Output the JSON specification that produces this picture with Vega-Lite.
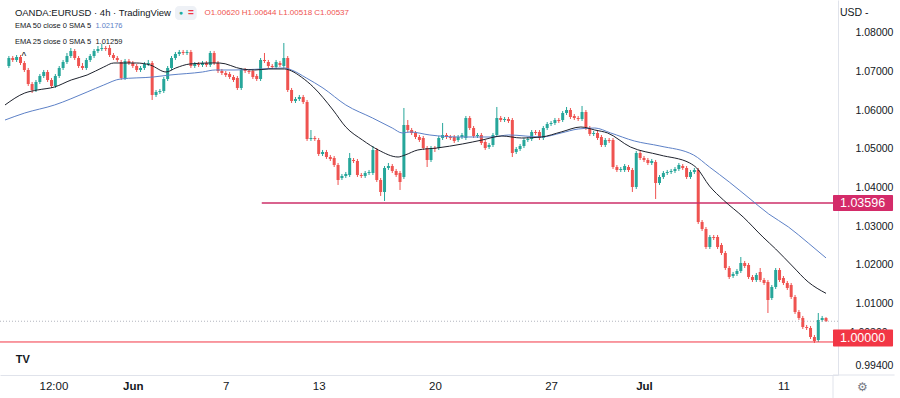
{
"$schema": "https://vega.github.io/schema/vega-lite/v6.json",
"width": 838,
"height": 375,
"autosize": {"type": "none"},
"padding": {"left": 0, "top": 0, "right": 62, "bottom": 23},
"background": "#ffffff",
"config": {"view": {"stroke": null}, "font": "Liberation Sans",
 "axis": {"grid": false, "ticks": false, "domain": true, "domainColor": "#e0e3eb", "labelColor": "#131722", "labelFlush": false, "labelOverlap": false},
 "axisX": {"labelFontSize": 11.5, "labelPadding": 5},
 "axisY": {"labelFontSize": 10.5, "labelPadding": 17}},
"data": {"values": [{}]},
"datasets": {
"candles": [
{"i":1,"o":1.07145,"h":1.07404,"l":1.07094,"c":1.07352},
{"i":2,"o":1.07352,"h":1.07404,"l":1.07249,"c":1.07301},
{"i":3,"o":1.07301,"h":1.0743,"l":1.07249,"c":1.07378},
{"i":4,"o":1.07378,"h":1.0743,"l":1.07171,"c":1.07223},
{"i":5,"o":1.07223,"h":1.07275,"l":1.0699,"c":1.07042},
{"i":6,"o":1.07042,"h":1.07094,"l":1.06628,"c":1.06679},
{"i":7,"o":1.06679,"h":1.06731,"l":1.06446,"c":1.06524},
{"i":8,"o":1.06524,"h":1.06783,"l":1.06472,"c":1.06731},
{"i":9,"o":1.06731,"h":1.06938,"l":1.06679,"c":1.06886},
{"i":10,"o":1.06886,"h":1.07042,"l":1.06835,"c":1.0699},
{"i":11,"o":1.0699,"h":1.07042,"l":1.06731,"c":1.06783},
{"i":12,"o":1.06783,"h":1.06835,"l":1.06576,"c":1.06628},
{"i":13,"o":1.06628,"h":1.06938,"l":1.06576,"c":1.06886},
{"i":14,"o":1.06886,"h":1.07145,"l":1.06835,"c":1.07094},
{"i":15,"o":1.07094,"h":1.07301,"l":1.07042,"c":1.07249},
{"i":16,"o":1.07249,"h":1.07482,"l":1.07197,"c":1.07404},
{"i":17,"o":1.07404,"h":1.07611,"l":1.07352,"c":1.07534},
{"i":18,"o":1.07534,"h":1.07585,"l":1.07301,"c":1.07352},
{"i":19,"o":1.07352,"h":1.07404,"l":1.07094,"c":1.07145},
{"i":20,"o":1.07145,"h":1.07223,"l":1.07042,"c":1.07094},
{"i":21,"o":1.07094,"h":1.07352,"l":1.07042,"c":1.07301},
{"i":22,"o":1.07301,"h":1.07456,"l":1.07249,"c":1.07404},
{"i":23,"o":1.07404,"h":1.07585,"l":1.07352,"c":1.07534},
{"i":24,"o":1.07534,"h":1.07663,"l":1.07482,"c":1.07585},
{"i":25,"o":1.07585,"h":1.07715,"l":1.07534,"c":1.07611},
{"i":26,"o":1.07611,"h":1.07663,"l":1.07534,"c":1.07585},
{"i":27,"o":1.07611,"h":1.07689,"l":1.07378,"c":1.0743},
{"i":28,"o":1.0743,"h":1.07482,"l":1.07301,"c":1.07352},
{"i":29,"o":1.07352,"h":1.07404,"l":1.07249,"c":1.07301},
{"i":30,"o":1.07249,"h":1.07301,"l":1.06783,"c":1.06835},
{"i":31,"o":1.06835,"h":1.07327,"l":1.06783,"c":1.07275},
{"i":32,"o":1.07275,"h":1.07327,"l":1.07171,"c":1.07223},
{"i":33,"o":1.07223,"h":1.07275,"l":1.07094,"c":1.07145},
{"i":34,"o":1.07145,"h":1.07197,"l":1.0699,"c":1.07042},
{"i":35,"o":1.07042,"h":1.07145,"l":1.0699,"c":1.07094},
{"i":36,"o":1.07094,"h":1.07249,"l":1.07042,"c":1.07197},
{"i":37,"o":1.07197,"h":1.07301,"l":1.07145,"c":1.07223},
{"i":38,"o":1.07223,"h":1.07275,"l":1.06265,"c":1.06395},
{"i":39,"o":1.06395,"h":1.06524,"l":1.06343,"c":1.06472},
{"i":40,"o":1.06472,"h":1.0655,"l":1.0642,"c":1.06498},
{"i":41,"o":1.06498,"h":1.06861,"l":1.06446,"c":1.06809},
{"i":42,"o":1.06809,"h":1.07145,"l":1.06757,"c":1.07094},
{"i":43,"o":1.07094,"h":1.07404,"l":1.07042,"c":1.07352},
{"i":44,"o":1.07352,"h":1.07508,"l":1.07301,"c":1.07456},
{"i":45,"o":1.07456,"h":1.0756,"l":1.07404,"c":1.07508},
{"i":46,"o":1.07508,"h":1.0756,"l":1.0743,"c":1.07482},
{"i":47,"o":1.07482,"h":1.0756,"l":1.0743,"c":1.07508},
{"i":48,"o":1.07508,"h":1.0756,"l":1.07094,"c":1.07145},
{"i":49,"o":1.07145,"h":1.07249,"l":1.07094,"c":1.07197},
{"i":50,"o":1.07197,"h":1.07249,"l":1.07119,"c":1.07171},
{"i":51,"o":1.07171,"h":1.07275,"l":1.07119,"c":1.07223},
{"i":52,"o":1.07223,"h":1.07275,"l":1.07119,"c":1.07171},
{"i":53,"o":1.07171,"h":1.07534,"l":1.07119,"c":1.07482},
{"i":54,"o":1.07482,"h":1.07534,"l":1.07171,"c":1.07223},
{"i":55,"o":1.07223,"h":1.07275,"l":1.06964,"c":1.07016},
{"i":56,"o":1.07016,"h":1.07068,"l":1.06912,"c":1.06964},
{"i":57,"o":1.06964,"h":1.07016,"l":1.06861,"c":1.06912},
{"i":58,"o":1.06938,"h":1.0699,"l":1.06809,"c":1.06861},
{"i":59,"o":1.06861,"h":1.06912,"l":1.06731,"c":1.06783},
{"i":60,"o":1.06835,"h":1.06886,"l":1.06524,"c":1.06576},
{"i":61,"o":1.06576,"h":1.07094,"l":1.06524,"c":1.07042},
{"i":62,"o":1.07042,"h":1.07094,"l":1.06964,"c":1.07016},
{"i":63,"o":1.07016,"h":1.07068,"l":1.06938,"c":1.0699},
{"i":64,"o":1.07016,"h":1.07068,"l":1.06809,"c":1.06861},
{"i":65,"o":1.06886,"h":1.06938,"l":1.06757,"c":1.06809},
{"i":66,"o":1.06809,"h":1.07352,"l":1.06757,"c":1.07301},
{"i":67,"o":1.07301,"h":1.07482,"l":1.07223,"c":1.07275},
{"i":68,"o":1.07249,"h":1.07301,"l":1.07094,"c":1.07145},
{"i":69,"o":1.07145,"h":1.07197,"l":1.07068,"c":1.07119},
{"i":70,"o":1.07119,"h":1.07301,"l":1.07068,"c":1.07249},
{"i":71,"o":1.07223,"h":1.07275,"l":1.07119,"c":1.07171},
{"i":72,"o":1.07145,"h":1.07741,"l":1.07094,"c":1.07352},
{"i":73,"o":1.07352,"h":1.07404,"l":1.06472,"c":1.06524},
{"i":74,"o":1.06524,"h":1.06576,"l":1.06187,"c":1.06239},
{"i":75,"o":1.06239,"h":1.06343,"l":1.06187,"c":1.06291},
{"i":76,"o":1.06291,"h":1.06395,"l":1.06239,"c":1.06343},
{"i":77,"o":1.06343,"h":1.06395,"l":1.06162,"c":1.06213},
{"i":78,"o":1.06213,"h":1.06265,"l":1.05204,"c":1.05255},
{"i":79,"o":1.05255,"h":1.05488,"l":1.05204,"c":1.05281},
{"i":80,"o":1.05281,"h":1.05333,"l":1.05204,"c":1.05255},
{"i":81,"o":1.05229,"h":1.05281,"l":1.04815,"c":1.04867},
{"i":82,"o":1.04867,"h":1.04971,"l":1.04815,"c":1.04919},
{"i":83,"o":1.04919,"h":1.04971,"l":1.04738,"c":1.04789},
{"i":84,"o":1.04789,"h":1.04841,"l":1.04686,"c":1.04738},
{"i":85,"o":1.04763,"h":1.04815,"l":1.0453,"c":1.04582},
{"i":86,"o":1.04582,"h":1.04634,"l":1.04065,"c":1.04194},
{"i":87,"o":1.04246,"h":1.04349,"l":1.04194,"c":1.04298},
{"i":88,"o":1.04298,"h":1.04401,"l":1.04246,"c":1.04349},
{"i":89,"o":1.04323,"h":1.04893,"l":1.04272,"c":1.04763},
{"i":90,"o":1.04712,"h":1.04763,"l":1.04634,"c":1.04686},
{"i":91,"o":1.04686,"h":1.04738,"l":1.04272,"c":1.04323},
{"i":92,"o":1.04323,"h":1.04375,"l":1.04246,"c":1.04298},
{"i":93,"o":1.04298,"h":1.04427,"l":1.04246,"c":1.04375},
{"i":94,"o":1.04375,"h":1.04453,"l":1.04323,"c":1.04401},
{"i":95,"o":1.04375,"h":1.05074,"l":1.04323,"c":1.04971},
{"i":96,"o":1.04971,"h":1.05022,"l":1.04142,"c":1.04194},
{"i":97,"o":1.04194,"h":1.04246,"l":1.0378,"c":1.03883},
{"i":98,"o":1.03883,"h":1.04556,"l":1.0365,"c":1.04505},
{"i":99,"o":1.04505,"h":1.04634,"l":1.04453,"c":1.04556},
{"i":100,"o":1.04556,"h":1.04608,"l":1.04375,"c":1.04427},
{"i":101,"o":1.04427,"h":1.04479,"l":1.04272,"c":1.04323},
{"i":102,"o":1.04375,"h":1.04427,"l":1.03935,"c":1.04142},
{"i":103,"o":1.04272,"h":1.06058,"l":1.0422,"c":1.05618},
{"i":104,"o":1.05618,"h":1.05747,"l":1.05437,"c":1.05488},
{"i":105,"o":1.05488,"h":1.0554,"l":1.05359,"c":1.05411},
{"i":106,"o":1.05411,"h":1.05462,"l":1.05255,"c":1.05307},
{"i":107,"o":1.05307,"h":1.05359,"l":1.05178,"c":1.05229},
{"i":108,"o":1.05281,"h":1.05333,"l":1.04971,"c":1.05022},
{"i":109,"o":1.05022,"h":1.05074,"l":1.0453,"c":1.04712},
{"i":110,"o":1.04712,"h":1.05074,"l":1.0466,"c":1.05022},
{"i":111,"o":1.05022,"h":1.05074,"l":1.04919,"c":1.04996},
{"i":112,"o":1.05022,"h":1.05333,"l":1.04971,"c":1.05281},
{"i":113,"o":1.05281,"h":1.0567,"l":1.05229,"c":1.05359},
{"i":114,"o":1.05359,"h":1.05411,"l":1.05255,"c":1.05307},
{"i":115,"o":1.05307,"h":1.05359,"l":1.05229,"c":1.05281},
{"i":116,"o":1.05307,"h":1.05359,"l":1.05152,"c":1.05204},
{"i":117,"o":1.05229,"h":1.05359,"l":1.05178,"c":1.05307},
{"i":118,"o":1.05307,"h":1.05411,"l":1.05255,"c":1.05359},
{"i":119,"o":1.05281,"h":1.05851,"l":1.05229,"c":1.05799},
{"i":120,"o":1.05799,"h":1.05851,"l":1.05488,"c":1.0554},
{"i":121,"o":1.0554,"h":1.05592,"l":1.05281,"c":1.05333},
{"i":122,"o":1.05333,"h":1.05411,"l":1.05281,"c":1.05359},
{"i":123,"o":1.05359,"h":1.05411,"l":1.051,"c":1.05152},
{"i":124,"o":1.05178,"h":1.05229,"l":1.04971,"c":1.05022},
{"i":125,"o":1.05048,"h":1.05152,"l":1.04996,"c":1.051},
{"i":126,"o":1.051,"h":1.05411,"l":1.05048,"c":1.05359},
{"i":127,"o":1.05359,"h":1.06084,"l":1.05307,"c":1.05799},
{"i":128,"o":1.05799,"h":1.05851,"l":1.05695,"c":1.05747},
{"i":129,"o":1.05747,"h":1.05825,"l":1.05695,"c":1.05773},
{"i":130,"o":1.05773,"h":1.05825,"l":1.0567,"c":1.05721},
{"i":131,"o":1.05747,"h":1.05799,"l":1.04789,"c":1.04893},
{"i":132,"o":1.04919,"h":1.05048,"l":1.04867,"c":1.04996},
{"i":133,"o":1.04996,"h":1.05126,"l":1.04945,"c":1.05074},
{"i":134,"o":1.05074,"h":1.05281,"l":1.05022,"c":1.05229},
{"i":135,"o":1.05229,"h":1.05307,"l":1.05178,"c":1.05255},
{"i":136,"o":1.05255,"h":1.05488,"l":1.05204,"c":1.05437},
{"i":137,"o":1.05437,"h":1.05488,"l":1.05359,"c":1.05411},
{"i":138,"o":1.05437,"h":1.05488,"l":1.05229,"c":1.05281},
{"i":139,"o":1.05281,"h":1.05592,"l":1.05229,"c":1.0554},
{"i":140,"o":1.0554,"h":1.05695,"l":1.05488,"c":1.05644},
{"i":141,"o":1.05644,"h":1.05721,"l":1.05592,"c":1.0567},
{"i":142,"o":1.0567,"h":1.05799,"l":1.05618,"c":1.05747},
{"i":143,"o":1.05747,"h":1.05799,"l":1.0567,"c":1.05721},
{"i":144,"o":1.05747,"h":1.0598,"l":1.05695,"c":1.05928},
{"i":145,"o":1.05928,"h":1.06084,"l":1.05877,"c":1.06006},
{"i":146,"o":1.06006,"h":1.06058,"l":1.05773,"c":1.05825},
{"i":147,"o":1.05851,"h":1.05902,"l":1.05747,"c":1.05799},
{"i":148,"o":1.05799,"h":1.05851,"l":1.05721,"c":1.05773},
{"i":149,"o":1.05773,"h":1.0611,"l":1.05721,"c":1.05954},
{"i":150,"o":1.05954,"h":1.06006,"l":1.05488,"c":1.0554},
{"i":151,"o":1.0554,"h":1.05592,"l":1.05333,"c":1.05385},
{"i":152,"o":1.05385,"h":1.05462,"l":1.05333,"c":1.05411},
{"i":153,"o":1.05411,"h":1.05462,"l":1.05229,"c":1.05281},
{"i":154,"o":1.05307,"h":1.05359,"l":1.05048,"c":1.051},
{"i":155,"o":1.051,"h":1.05281,"l":1.05048,"c":1.05229},
{"i":156,"o":1.05229,"h":1.05281,"l":1.05152,"c":1.05204},
{"i":157,"o":1.05229,"h":1.05281,"l":1.04479,"c":1.0453},
{"i":158,"o":1.0453,"h":1.04582,"l":1.04401,"c":1.04453},
{"i":159,"o":1.04453,"h":1.0453,"l":1.04401,"c":1.04479},
{"i":160,"o":1.04453,"h":1.04608,"l":1.04401,"c":1.04556},
{"i":161,"o":1.0453,"h":1.04582,"l":1.04401,"c":1.04453},
{"i":162,"o":1.04453,"h":1.04505,"l":1.03883,"c":1.04013},
{"i":163,"o":1.04013,"h":1.04945,"l":1.03961,"c":1.04893},
{"i":164,"o":1.04893,"h":1.04945,"l":1.04712,"c":1.04763},
{"i":165,"o":1.04763,"h":1.04815,"l":1.0466,"c":1.04712},
{"i":166,"o":1.04712,"h":1.04763,"l":1.04582,"c":1.04634},
{"i":167,"o":1.04634,"h":1.04738,"l":1.04582,"c":1.04686},
{"i":168,"o":1.0466,"h":1.04712,"l":1.03702,"c":1.04116},
{"i":169,"o":1.04116,"h":1.04323,"l":1.04065,"c":1.04272},
{"i":170,"o":1.04272,"h":1.04427,"l":1.0422,"c":1.04375},
{"i":171,"o":1.04375,"h":1.04453,"l":1.04323,"c":1.04401},
{"i":172,"o":1.04401,"h":1.04479,"l":1.04349,"c":1.04427},
{"i":173,"o":1.04427,"h":1.0453,"l":1.04375,"c":1.04479},
{"i":174,"o":1.04479,"h":1.04634,"l":1.04427,"c":1.04582},
{"i":175,"o":1.04556,"h":1.04608,"l":1.04453,"c":1.04505},
{"i":176,"o":1.04505,"h":1.04556,"l":1.0422,"c":1.04272},
{"i":177,"o":1.04272,"h":1.04453,"l":1.0422,"c":1.04401},
{"i":178,"o":1.04401,"h":1.04505,"l":1.04349,"c":1.04453},
{"i":179,"o":1.04453,"h":1.04505,"l":1.03055,"c":1.03106},
{"i":180,"o":1.03106,"h":1.03158,"l":1.02874,"c":1.02925},
{"i":181,"o":1.02925,"h":1.02977,"l":1.02407,"c":1.02459},
{"i":182,"o":1.02459,"h":1.0277,"l":1.02407,"c":1.02718},
{"i":183,"o":1.02718,"h":1.0277,"l":1.0264,"c":1.02692},
{"i":184,"o":1.02718,"h":1.0277,"l":1.02407,"c":1.02459},
{"i":185,"o":1.02511,"h":1.02563,"l":1.02252,"c":1.02304},
{"i":186,"o":1.02304,"h":1.02356,"l":1.01864,"c":1.01915},
{"i":187,"o":1.01915,"h":1.01967,"l":1.01631,"c":1.01683},
{"i":188,"o":1.01708,"h":1.01812,"l":1.01657,"c":1.0176},
{"i":189,"o":1.0176,"h":1.0189,"l":1.01708,"c":1.01838},
{"i":190,"o":1.01838,"h":1.022,"l":1.01786,"c":1.02045},
{"i":191,"o":1.02045,"h":1.02097,"l":1.01915,"c":1.01967},
{"i":192,"o":1.01993,"h":1.02045,"l":1.01631,"c":1.01683},
{"i":193,"o":1.01683,"h":1.01734,"l":1.01553,"c":1.01605},
{"i":194,"o":1.01605,"h":1.01786,"l":1.01553,"c":1.01734},
{"i":195,"o":1.01812,"h":1.01915,"l":1.01553,"c":1.01605},
{"i":196,"o":1.01605,"h":1.01657,"l":1.01475,"c":1.01527},
{"i":197,"o":1.01553,"h":1.01605,"l":1.0075,"c":1.01087},
{"i":198,"o":1.01139,"h":1.01475,"l":1.01087,"c":1.01424},
{"i":199,"o":1.01424,"h":1.01915,"l":1.01372,"c":1.01864},
{"i":200,"o":1.01864,"h":1.01915,"l":1.01553,"c":1.01605},
{"i":201,"o":1.01657,"h":1.01708,"l":1.01475,"c":1.01527},
{"i":202,"o":1.01527,"h":1.01579,"l":1.01346,"c":1.01398},
{"i":203,"o":1.01475,"h":1.01527,"l":1.01113,"c":1.01165},
{"i":204,"o":1.01165,"h":1.01217,"l":1.00724,"c":1.00776},
{"i":205,"o":1.00776,"h":1.00828,"l":1.00569,"c":1.00621},
{"i":206,"o":1.00621,"h":1.00673,"l":1.00336,"c":1.00388},
{"i":207,"o":1.00388,"h":1.0044,"l":1.0031,"c":1.00362},
{"i":208,"o":1.00362,"h":1.00414,"l":1.00077,"c":1.00129},
{"i":209,"o":1.00129,"h":1.00181,"l":0.99974,"c":1.00025},
{"i":210,"o":1.00051,"h":1.0075,"l":0.99999,"c":1.00569},
{"i":211,"o":1.00569,"h":1.00673,"l":1.00517,"c":1.00621},
{"i":212,"o":1.0062,"h":1.00644,"l":1.00518,"c":1.00537}
],
"ema25": [
{"i":0,"v":1.06136},{"i":5.1,"v":1.06446},{"i":8.4,"v":1.06524},{"i":12.8,"v":1.06602},{"i":17.1,"v":1.06783},{"i":21.2,"v":1.06912},{"i":25.5,"v":1.07119},{"i":28.1,"v":1.07223},{"i":33.9,"v":1.07223},{"i":37.5,"v":1.07171},{"i":41.6,"v":1.0699},{"i":44.1,"v":1.07094},{"i":47.7,"v":1.07197},{"i":52.8,"v":1.07223},{"i":55.4,"v":1.07223},{"i":61.2,"v":1.07068},{"i":64.5,"v":1.07042},{"i":68.1,"v":1.07068},{"i":72.2,"v":1.07068},{"i":74,"v":1.07016},{"i":76.5,"v":1.06861},{"i":79.6,"v":1.06602},{"i":84.7,"v":1.06006},{"i":88,"v":1.05566},{"i":92.3,"v":1.05229},{"i":96.4,"v":1.04971},{"i":101.5,"v":1.04789},{"i":103.3,"v":1.04841},{"i":106.6,"v":1.04971},{"i":111.5,"v":1.05022},{"i":118.1,"v":1.05126},{"i":123.2,"v":1.05229},{"i":128.3,"v":1.05333},{"i":133.4,"v":1.05281},{"i":138.5,"v":1.05307},{"i":143.6,"v":1.05437},{"i":148.7,"v":1.05566},{"i":152.3,"v":1.05488},{"i":155.6,"v":1.05411},{"i":161.5,"v":1.05048},{"i":169.1,"v":1.04841},{"i":176.8,"v":1.04634},{"i":178.6,"v":1.04505},{"i":181.9,"v":1.04039},{"i":185.5,"v":1.03676},{"i":190.6,"v":1.03236},{"i":195.7,"v":1.02718},{"i":199,"v":1.02407},{"i":203.3,"v":1.01967},{"i":207.4,"v":1.01553},{"i":212,"v":1.01259}
],
"ema50": [
{"i":0,"v":1.05747},{"i":5.1,"v":1.05928},{"i":12.8,"v":1.06136},{"i":21.2,"v":1.06472},{"i":25.5,"v":1.06653},{"i":29.8,"v":1.06809},{"i":38.3,"v":1.06861},{"i":42.6,"v":1.06912},{"i":51,"v":1.0699},{"i":54.3,"v":1.07042},{"i":59.4,"v":1.07042},{"i":66.3,"v":1.07068},{"i":72.2,"v":1.07094},{"i":74,"v":1.07042},{"i":77.8,"v":1.06835},{"i":82.1,"v":1.06576},{"i":88,"v":1.06136},{"i":94.9,"v":1.05799},{"i":100,"v":1.0554},{"i":102.6,"v":1.05411},{"i":104.6,"v":1.05437},{"i":109.7,"v":1.05359},{"i":117.3,"v":1.05307},{"i":125.8,"v":1.05307},{"i":130.1,"v":1.05359},{"i":138.5,"v":1.05307},{"i":143.6,"v":1.05411},{"i":148,"v":1.05514},{"i":152.3,"v":1.0554},{"i":156.4,"v":1.05411},{"i":162.5,"v":1.05204},{"i":169.1,"v":1.05074},{"i":177.8,"v":1.04841},{"i":181.9,"v":1.0453},{"i":187,"v":1.04142},{"i":192.1,"v":1.03728},{"i":197.2,"v":1.03314},{"i":202.3,"v":1.02977},{"i":207.4,"v":1.02563},{"i":212,"v":1.02176}
],
"level": [{"p":1.03596,"from":66.3,"to":213.8}]
},
"layer": [
{"data": {"name": "candles"},
 "mark": {"type": "rule", "strokeWidth": 1},
 "encoding": {
  "x": {"field": "i", "type": "quantitative", "title": null, "scale": {"domain": [0, 213.8], "nice": false, "zero": false},
   "axis": {"orient": "bottom", "title": null,
    "values": [12.5, 33, 57, 81, 111, 141, 165, 201],
    "labelExpr": "datum.value == 12.5 ? '12:00' : datum.value == 33 ? 'Jun' : datum.value == 57 ? '7' : datum.value == 81 ? '13' : datum.value == 111 ? '20' : datum.value == 141 ? '27' : datum.value == 165 ? 'Jul' : '11'",
    "labelFontWeight": {"condition": {"test": "datum.value == 33 || datum.value == 165", "value": 600}, "value": 400}}},
  "y": {"field": "l", "type": "quantitative", "title": null, "scale": {"domain": [0.99145, 1.08854], "nice": false, "zero": false},
   "axis": {"orient": "right", "title": null,
    "values": [0.994, 1.01, 1.02, 1.03, 1.04, 1.05, 1.06, 1.07, 1.08], "format": ".5f"}},
  "y2": {"field": "h"},
  "color": {"condition": {"test": "datum.c >= datum.o", "value": "#26a69a"}, "value": "#ef5350"}}},
{"data": {"name": "candles"},
 "mark": {"type": "bar", "width": 3},
 "encoding": {
  "x": {"field": "i", "type": "quantitative", "title": null, "scale": {"domain": [0, 213.8], "nice": false, "zero": false}},
  "y": {"field": "o", "type": "quantitative", "title": null, "scale": {"domain": [0.99145, 1.08854], "nice": false, "zero": false}},
  "y2": {"field": "c"},
  "color": {"condition": {"test": "datum.c >= datum.o", "value": "#26a69a"}, "value": "#ef5350"}}},
{"mark": {"type": "rule", "color": "#b2b5be", "strokeDash": [1, 2], "strokeWidth": 1},
 "encoding": {"y": {"datum": 1.00537, "type": "quantitative", "title": null, "scale": {"domain": [0.99145, 1.08854], "nice": false, "zero": false}}}},
{"mark": {"type": "rule", "color": "#f23645", "strokeWidth": 1},
 "encoding": {"y": {"datum": 1.0, "type": "quantitative", "title": null, "scale": {"domain": [0.99145, 1.08854], "nice": false, "zero": false}}}},
{"mark": {"type": "rule", "color": "#e0e3eb", "strokeWidth": 1},
 "encoding": {"x": {"datum": 213.8, "type": "quantitative", "title": null, "scale": {"domain": [0, 213.8], "nice": false, "zero": false}},
  "y": {"datum": 0.99145, "type": "quantitative", "title": null, "scale": {"domain": [0.99145, 1.08854], "nice": false, "zero": false}},
  "y2": {"datum": 0.9855}}},
{"mark": {"type": "rule", "color": "#e0e3eb", "strokeWidth": 1},
 "encoding": {"x": {"datum": 213.8, "type": "quantitative", "title": null, "scale": {"domain": [0, 213.8], "nice": false, "zero": false}},
  "x2": {"datum": 229.7},
  "y": {"datum": 0.99145, "type": "quantitative", "title": null, "scale": {"domain": [0.99145, 1.08854], "nice": false, "zero": false}}}},
{"data": {"name": "level"},
 "mark": {"type": "rule", "color": "#cc2f69", "strokeWidth": 1.5},
 "encoding": {
  "x": {"field": "from", "type": "quantitative", "title": null, "scale": {"domain": [0, 213.8], "nice": false, "zero": false}},
  "x2": {"field": "to"},
  "y": {"field": "p", "type": "quantitative", "title": null, "scale": {"domain": [0.99145, 1.08854], "nice": false, "zero": false}}}},
{"data": {"name": "ema50"},
 "mark": {"type": "line", "color": "#5d81c7", "strokeWidth": 1, "interpolate": "monotone"},
 "encoding": {
  "x": {"field": "i", "type": "quantitative", "title": null, "scale": {"domain": [0, 213.8], "nice": false, "zero": false}},
  "y": {"field": "v", "type": "quantitative", "title": null, "scale": {"domain": [0.99145, 1.08854], "nice": false, "zero": false}}}},
{"data": {"name": "ema25"},
 "mark": {"type": "line", "color": "#1e222d", "strokeWidth": 1, "interpolate": "monotone"},
 "encoding": {
  "x": {"field": "i", "type": "quantitative", "title": null, "scale": {"domain": [0, 213.8], "nice": false, "zero": false}},
  "y": {"field": "v", "type": "quantitative", "title": null, "scale": {"domain": [0.99145, 1.08854], "nice": false, "zero": false}}}},
{"mark": {"type": "text", "align": "left", "baseline": "middle", "fontSize": 10.5, "color": "#131722", "text": "1.00300"},
 "encoding": {"x": {"datum": 218.1, "type": "quantitative", "title": null, "scale": {"domain": [0, 213.8], "nice": false, "zero": false}},
  "y": {"datum": 1.00233, "type": "quantitative", "title": null, "scale": {"domain": [0.99145, 1.08854], "nice": false, "zero": false}}}},
{"mark": {"type": "rect", "color": "#d42b69", "cornerRadius": 1},
 "encoding": {"x": {"datum": 213.8, "type": "quantitative", "title": null, "scale": {"domain": [0, 213.8], "nice": false, "zero": false}},
  "x2": {"datum": 229.3},
  "y": {"datum": 1.03805, "type": "quantitative", "title": null, "scale": {"domain": [0.99145, 1.08854], "nice": false, "zero": false}},
  "y2": {"datum": 1.03391}}},
{"mark": {"type": "rect", "color": "#f23645", "cornerRadius": 1},
 "encoding": {"x": {"datum": 213.8, "type": "quantitative", "title": null, "scale": {"domain": [0, 213.8], "nice": false, "zero": false}},
  "x2": {"datum": 229.3},
  "y": {"datum": 1.00323, "type": "quantitative", "title": null, "scale": {"domain": [0.99145, 1.08854], "nice": false, "zero": false}},
  "y2": {"datum": 0.99883}}},
{"mark": {"type": "text", "align": "left", "baseline": "middle", "fontSize": 12.5, "color": "#ffffff", "text": "1.03596"},
 "encoding": {"x": {"datum": 215.6, "type": "quantitative", "title": null, "scale": {"domain": [0, 213.8], "nice": false, "zero": false}},
  "y": {"datum": 1.03596, "type": "quantitative", "title": null, "scale": {"domain": [0.99145, 1.08854], "nice": false, "zero": false}}}},
{"mark": {"type": "text", "align": "left", "baseline": "middle", "fontSize": 12.5, "color": "#ffffff", "text": "1.00000"},
 "encoding": {"x": {"datum": 215.6, "type": "quantitative", "title": null, "scale": {"domain": [0, 213.8], "nice": false, "zero": false}},
  "y": {"datum": 1.00103, "type": "quantitative", "title": null, "scale": {"domain": [0.99145, 1.08854], "nice": false, "zero": false}}}},
{"mark": {"type": "text", "align": "left", "baseline": "middle", "fontSize": 10.5, "color": "#131722", "text": "USD -"},
 "encoding": {"x": {"datum": 215.6, "type": "quantitative", "title": null, "scale": {"domain": [0, 213.8], "nice": false, "zero": false}},
  "y": {"datum": 1.08517, "type": "quantitative", "title": null, "scale": {"domain": [0.99145, 1.08854], "nice": false, "zero": false}}}},
{"mark": {"type": "text", "align": "center", "baseline": "middle", "fontSize": 12, "color": "#787b86", "text": "⚙"},
 "encoding": {"x": {"datum": 221.5, "type": "quantitative", "title": null, "scale": {"domain": [0, 213.8], "nice": false, "zero": false}},
  "y": {"datum": 0.98835, "type": "quantitative", "title": null, "scale": {"domain": [0.99145, 1.08854], "nice": false, "zero": false}}}},
{"mark": {"type": "text", "align": "center", "baseline": "middle", "fontSize": 11, "fontWeight": "bold", "color": "#131722", "text": "TV"},
 "encoding": {"x": {"datum": 4.6, "type": "quantitative", "title": null, "scale": {"domain": [0, 213.8], "nice": false, "zero": false}},
  "y": {"datum": 0.99533, "type": "quantitative", "title": null, "scale": {"domain": [0.99145, 1.08854], "nice": false, "zero": false}}}},
{"mark": {"type": "text", "align": "center", "baseline": "middle", "fontSize": 10, "color": "#131722", "text": "^"},
 "encoding": {"x": {"datum": 4.85, "type": "quantitative", "title": null, "scale": {"domain": [0, 213.8], "nice": false, "zero": false}},
  "y": {"datum": 1.07378, "type": "quantitative", "title": null, "scale": {"domain": [0.99145, 1.08854], "nice": false, "zero": false}}}},
{"mark": {"type": "text", "align": "left", "baseline": "middle", "fontSize": 9.5, "color": "#131722", "text": "OANDA:EURUSD · 4h · TradingView"},
 "encoding": {"x": {"datum": 2.55, "type": "quantitative", "title": null, "scale": {"domain": [0, 213.8], "nice": false, "zero": false}},
  "y": {"datum": 1.08517, "type": "quantitative", "title": null, "scale": {"domain": [0.99145, 1.08854], "nice": false, "zero": false}}}},
{"mark": {"type": "rect", "color": "#eef1f6", "cornerRadius": 4},
 "encoding": {"x": {"datum": 43.9, "type": "quantitative", "title": null, "scale": {"domain": [0, 213.8], "nice": false, "zero": false}},
  "x2": {"datum": 49.5},
  "y": {"datum": 1.08699, "type": "quantitative", "title": null, "scale": {"domain": [0.99145, 1.08854], "nice": false, "zero": false}},
  "y2": {"datum": 1.08336}}},
{"mark": {"type": "text", "align": "center", "baseline": "middle", "fontSize": 7, "color": "#22ab94", "text": "●"},
 "encoding": {"x": {"datum": 45.4, "type": "quantitative", "title": null, "scale": {"domain": [0, 213.8], "nice": false, "zero": false}},
  "y": {"datum": 1.08517, "type": "quantitative", "title": null, "scale": {"domain": [0.99145, 1.08854], "nice": false, "zero": false}}}},
{"mark": {"type": "text", "align": "center", "baseline": "middle", "fontSize": 10, "fontWeight": "bold", "color": "#f23645", "text": "="},
 "encoding": {"x": {"datum": 48, "type": "quantitative", "title": null, "scale": {"domain": [0, 213.8], "nice": false, "zero": false}},
  "y": {"datum": 1.08517, "type": "quantitative", "title": null, "scale": {"domain": [0.99145, 1.08854], "nice": false, "zero": false}}}},
{"mark": {"type": "text", "align": "left", "baseline": "middle", "fontSize": 8, "color": "#ef5350", "text": "O1.00620 H1.00644 L1.00518 C1.00537"},
 "encoding": {"x": {"datum": 51.5, "type": "quantitative", "title": null, "scale": {"domain": [0, 213.8], "nice": false, "zero": false}},
  "y": {"datum": 1.08517, "type": "quantitative", "title": null, "scale": {"domain": [0.99145, 1.08854], "nice": false, "zero": false}}}},
{"mark": {"type": "text", "align": "left", "baseline": "middle", "fontSize": 7.5, "color": "#131722", "text": "EMA 50 close 0 SMA 5"},
 "encoding": {"x": {"datum": 2.55, "type": "quantitative", "title": null, "scale": {"domain": [0, 213.8], "nice": false, "zero": false}},
  "y": {"datum": 1.08181, "type": "quantitative", "title": null, "scale": {"domain": [0.99145, 1.08854], "nice": false, "zero": false}}}},
{"mark": {"type": "text", "align": "left", "baseline": "middle", "fontSize": 7.5, "color": "#5d81c7", "text": "1.02176"},
 "encoding": {"x": {"datum": 23.35, "type": "quantitative", "title": null, "scale": {"domain": [0, 213.8], "nice": false, "zero": false}},
  "y": {"datum": 1.08181, "type": "quantitative", "title": null, "scale": {"domain": [0.99145, 1.08854], "nice": false, "zero": false}}}},
{"mark": {"type": "text", "align": "left", "baseline": "middle", "fontSize": 7.5, "color": "#131722", "text": "EMA 25 close 0 SMA 5"},
 "encoding": {"x": {"datum": 2.55, "type": "quantitative", "title": null, "scale": {"domain": [0, 213.8], "nice": false, "zero": false}},
  "y": {"datum": 1.07767, "type": "quantitative", "title": null, "scale": {"domain": [0.99145, 1.08854], "nice": false, "zero": false}}}},
{"mark": {"type": "text", "align": "left", "baseline": "middle", "fontSize": 7.5, "color": "#131722", "text": "1.01259"},
 "encoding": {"x": {"datum": 23.35, "type": "quantitative", "title": null, "scale": {"domain": [0, 213.8], "nice": false, "zero": false}},
  "y": {"datum": 1.07767, "type": "quantitative", "title": null, "scale": {"domain": [0.99145, 1.08854], "nice": false, "zero": false}}}}
]
}
